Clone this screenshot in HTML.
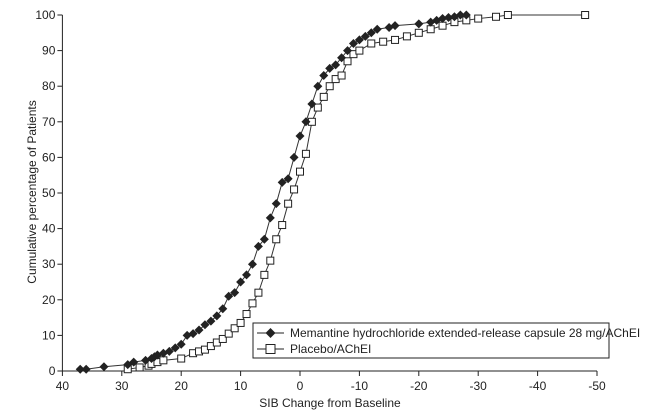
<!DOCTYPE html>
<html><head><meta charset="utf-8"><style>
body{margin:0;background:#fff}
svg{font-family:"Liberation Sans",Arial,sans-serif;font-size:12px;fill:#222}
</style></head><body>
<svg width="651" height="413">
<g id="axes"></g><g id="series"></g>
<g>
<rect x="253" y="323" width="356" height="35" fill="#fff" stroke="#222" stroke-width="1"/>
<g>
<line x1="257" y1="333" x2="284" y2="333" stroke="#222"/>
<path d="M270.5 328 L275.5 333 L270.5 338 L265.5 333Z" fill="#222"/>
<text x="290" y="337">Memantine hydrochloride extended-release capsule 28 mg/AChEI</text></g>
<g>
<line x1="257" y1="349" x2="284" y2="349" stroke="#222"/>
<rect x="266" y="344.5" width="9" height="9" fill="#fff" stroke="#222"/>
<text x="290" y="353">Placebo/AChEI</text></g>
</g>
<text x="330" y="407" text-anchor="middle">SIB Change from Baseline</text>
<text transform="translate(36,192) rotate(-90)" text-anchor="middle">Cumulative percentage of Patients</text>
</svg>
<script>
const xTicks=[40,30,20,10,0,-10,-20,-30,-40,-50];
const yTicks=[0,10,20,30,40,50,60,70,80,90,100];
const memX=[37,36,33,29,28,26,25,24.5,24,23,22,21,20,19,18,17,16,15,14,13,12,11,10,9,8,7,6,5,4,3,2,1,0,-1,-2,-3,-4,-5,-6,-7,-8,-9,-10,-11,-12,-13,-15,-16,-20,-22,-23,-24,-25,-26,-27,-28];
const memY=[0.5,0.5,1.2,1.8,2.5,3,3.5,4,4.5,5,5.5,6.5,7.5,10,10.5,11.5,13,14,15.5,17.5,21,22,25,27,30,35,37,43,47,53,54,60,66,70,75,80,83,85,86,88,90,92,93,94,95,96,96.5,97,97.5,98,98.5,99,99.3,99.5,100,100];
const plaX=[29,27,25.5,25,24,23,20,18,17,16,15,14,13,12,11,10,9,8,7,6,5,4,3,2,1,0,-1,-2,-3,-4,-5,-6,-7,-8,-9,-10,-12,-14,-16,-18,-20,-22,-24,-26,-28,-30,-33,-35,-48];
const plaY=[0.5,1,1.5,2,2.5,3,3.5,5,5.5,6,7,8,9,10.5,12,13.5,16,19,22,27,31,37,41,47,51,56,61,70,74,77,80,82,83,87,89,90,92,92.5,93,94,95,96,97,98,98.5,99,99.5,100,100];
const X=v=>300-(v)*5.94, Y=v=>371-v*3.56;
const NS='http://www.w3.org/2000/svg';
function mk(t,a,p){const e=document.createElementNS(NS,t);for(const k in a)e.setAttribute(k,a[k]);p.appendChild(e);return e;}
const ax=document.getElementById('axes'), se=document.getElementById('series');
const xl=mk('line',{x1:X(40),y1:371,x2:X(-50),y2:371,stroke:'#222'},ax);


const yl=mk('line',{x1:X(40),y1:Y(0),x2:X(40),y2:Y(100),stroke:'#222'},ax);


xTicks.forEach(v=>{mk('line',{x1:X(v),y1:371,x2:X(v),y2:376,stroke:'#222'},ax);
const t=mk('text',{x:X(v),y:390,'text-anchor':'middle'},ax);t.textContent=v;

});
yTicks.forEach(v=>{mk('line',{x1:X(40)-5,y1:Y(v),x2:X(40),y2:Y(v),stroke:'#222'},ax);
const t=mk('text',{x:X(40)-7,y:Y(v)+4,'text-anchor':'end'},ax);t.textContent=v;

});
function series(xs,ys,name,diamond){
const g=mk('g',{},se);


mk('polyline',{points:xs.map((x,i)=>X(x)+','+Y(ys[i])).join(' '),fill:'none',stroke:'#333','stroke-width':1},g);
xs.forEach((x,i)=>{const cx=X(x),cy=Y(ys[i]);let m;
if(diamond)m=mk('path',{d:`M${cx} ${cy-4.5}L${cx+4.5} ${cy}L${cx} ${cy+4.5}L${cx-4.5} ${cy}Z`,fill:'#222'},g);
else m=mk('rect',{x:cx-3.5,y:cy-3.5,width:7,height:7,fill:'#fff',stroke:'#222'},g);

});}
series(plaX,plaY,'placebo-series',false);
series(memX,memY,'memantine-series',true);
</script>
</body></html>
